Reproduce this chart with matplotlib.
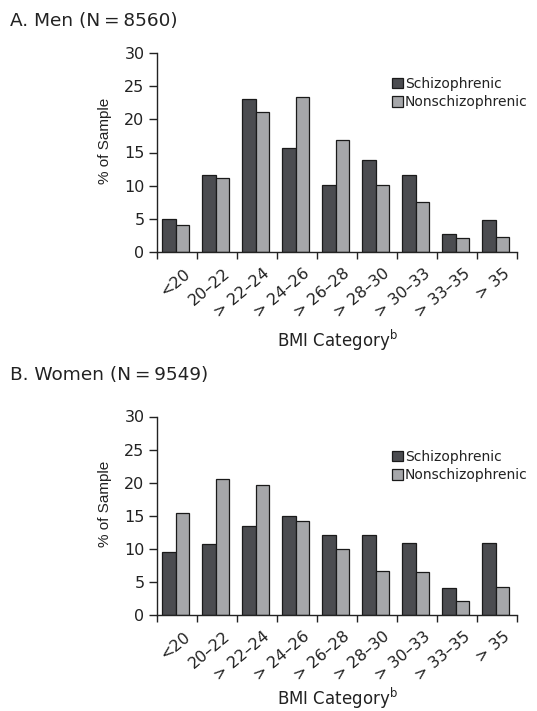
import matplotlib
matplotlib.use("Agg")
import matplotlib.pyplot as plt
import numpy as np
from matplotlib.transforms import ScaledTranslation

plt.rcParams['font.family'] = ['DejaVu Sans']
plt.rcParams['mathtext.fontset'] = 'dejavusans'

categories = ["<20", "20\u201322", "> 22\u201324", "> 24\u201326", "> 26\u201328",
              "> 28\u201330", "> 30\u201333", "> 33\u201335", "> 35"]
men_schiz = [5.0, 11.6, 23.1, 15.7, 10.15, 13.9, 11.6, 2.7, 4.75]
men_nonschiz = [4.1, 11.1, 21.05, 23.4, 16.9, 10.15, 7.5, 2.1, 2.2]
women_schiz = [9.55, 10.7, 13.5, 14.9, 12.15, 12.1, 10.9, 4.1, 10.85]
women_nonschiz = [15.35, 20.6, 19.65, 14.15, 9.95, 6.65, 6.5, 2.1, 4.2]
series_labels = ["Schizophrenic", "Nonschizophrenic"]
titles = ["A. Men (N\u2009=\u20098560)", "B. Women (N\u2009=\u20099549)"]
yticks = [0, 5, 10, 15, 20, 25, 30]

W, H = 537, 711
fig = plt.figure(figsize=(W / 100, H / 100), dpi=100)

dark = "#4b4c50"
light = "#a6a7aa"
ink = "#222222"

def px(x0, y_top, x1, y_bot):
    return [x0 / W, 1 - y_bot / H, (x1 - x0) / W, (y_bot - y_top) / H]

panels = [
    (men_schiz, men_nonschiz, px(157, 53, 517, 252), titles[0], (10, 21), (392, 77), 95),
    (women_schiz, women_nonschiz, px(157, 416.5, 517, 615), titles[1], (10, 375), (392, 450), 90),
]

for s_vals, n_vals, rect, title, tpos, lpos, xl_off in panels:
    ax = fig.add_axes(rect)
    x = np.arange(len(categories))
    w = 0.34
    ax.bar(x - w / 2 - 0.03, s_vals, w, color=dark, edgecolor="#1a1a1a", linewidth=0.9,
           label=series_labels[0])
    ax.bar(x + w / 2 - 0.03, n_vals, w, color=light, edgecolor="#1a1a1a", linewidth=0.9,
           label=series_labels[1])
    ax.set_xlim(-0.5, len(categories) - 0.5)
    ax.set_ylim(0, 30)
    ax.set_yticks(yticks)
    ax.tick_params(axis='y', labelsize=11.5, length=5.5, width=1.0, pad=3.5, color=ink,
                   labelcolor=ink)
    ax.set_xticks(np.arange(len(categories) + 1) - 0.5)
    ax.set_xticklabels([])
    ax.tick_params(axis='x', length=5, width=1.0, color=ink)
    ax.set_xticks(x, minor=True)
    ax.set_xticklabels(categories, minor=True, rotation=40, ha='right', va='center',
                       rotation_mode='anchor', fontsize=11.5, color=ink)
    ax.tick_params(axis='x', which='minor', length=0, pad=14)
    offset = ScaledTranslation(11 / 100, 0, fig.dpi_scale_trans)
    for lab in ax.get_xticklabels(minor=True):
        lab.set_transform(lab.get_transform() + offset)
    for sp in ["top", "right"]:
        ax.spines[sp].set_visible(False)
    for sp in ["left", "bottom"]:
        ax.spines[sp].set_linewidth(1.0)
        ax.spines[sp].set_color(ink)
    ax.set_ylabel("% of Sample", fontsize=11, family='Liberation Sans', color=ink)
    ax.yaxis.set_label_coords(-52 / 360, 0.56)
    ax.yaxis.label.set_va('center')
    ax.set_xlabel("BMI Category$^{\\mathrm{b}}$", fontsize=12, color=ink)
    ax.xaxis.set_label_coords(0.5, -xl_off / 199)
    ax.xaxis.label.set_va('baseline')
    fig.text(tpos[0] / W, 1 - tpos[1] / H, title, fontsize=13.3, ha='left', va='center',
             color=ink)
    leg = ax.legend(loc='upper left', bbox_to_anchor=(lpos[0] / W, 1 - lpos[1] / H),
                    bbox_transform=fig.transFigure, frameon=False, fontsize=10,
                    handlelength=0.78, handleheight=0.78, handletextpad=0.15,
                    labelspacing=0.3, borderpad=0, borderaxespad=0)
    for t in leg.get_texts():
        t.set_color(ink)

fig.savefig("out.png", dpi=100, facecolor="white")
